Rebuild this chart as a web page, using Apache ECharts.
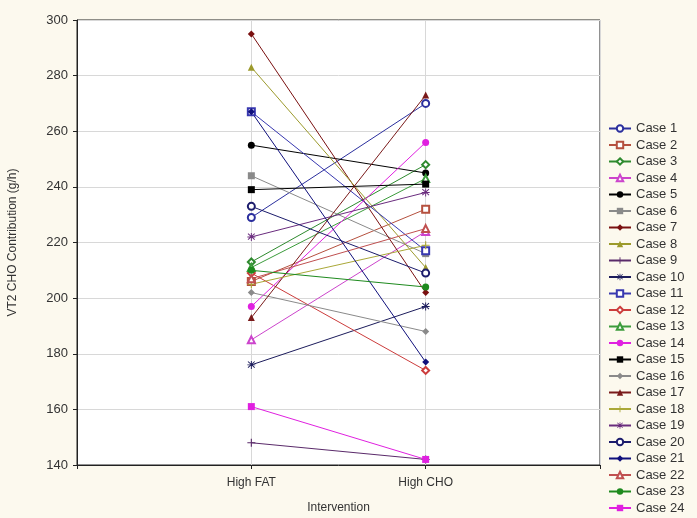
<!DOCTYPE html>
<html>
<head>
<meta charset="utf-8">
<script src="https://cdn.jsdelivr.net/npm/echarts@6/dist/echarts.min.js"></script>
<style>
  html, body { margin: 0; padding: 0; background: #fcf9ee; }
  #chart { width: 697px; height: 518px; }
</style>
</head>
<body>
<div id="chart"></div>
<script>
// Intervention conditions (x positions 1 and 2 on a 0..3 axis)
const interventions = ['High FAT', 'High CHO'];
const caseNames = ['Case 1','Case 2','Case 3','Case 4','Case 5','Case 6','Case 7','Case 8',
  'Case 9','Case 10','Case 11','Case 12','Case 13','Case 14','Case 15','Case 16',
  'Case 17','Case 18','Case 19','Case 20','Case 21','Case 22','Case 23','Case 24'];
// VT2 CHO contribution (g/h) per case
const highFat = [229, 206, 213, 185, 255, 244, 295, 283, 148, 176, 267, 209,
                 211, 197, 239, 202, 193, 205, 222, 233, 267, 207, 210, 161];
const highCho = [270, 232, 248, 224, 245, 216, 202, 211, 142, 197, 217, 174,
                 243, 256, 241, 188, 273, 219, 238, 209, 177, 225, 204, 142];
const yTicks = [140, 160, 180, 200, 220, 240, 260, 280, 300];

// Marker shapes and colours for each case
const PLUS = 'path://M4.3,0h1.4v10h-1.4zM0,4.3h10v1.4h-10z';
const STAR = 'path://M4.4,0h1.2v10h-1.2zM0,4.4h10v1.2h-10zM1.2,0.4L9.6,8 8.8,8.8 0.4,1.2zM8.8,0.4L9.6,1.2 1.2,8.8 0.4,8z';
const styles = [
  ['emptyCircle',   '#2b2f9e'], ['emptyRect',    '#b5503e'], ['emptyDiamond', '#2e8a2e'],
  ['emptyTriangle', '#cc44cc'], ['circle',       '#000000'], ['rect',         '#8a8a8a'],
  ['diamond',       '#7a1010'], ['triangle',     '#9c9a2c'], [PLUS,           '#5a2a6a'],
  [STAR,            '#1c1c5c'], ['emptyRect',    '#3838b0'], ['emptyDiamond', '#cc3c3c'],
  ['emptyTriangle', '#3c9c3c'], ['circle',       '#e020e0'], ['rect',         '#000000'],
  ['diamond',       '#8a8a8a'], ['triangle',     '#7a1a1a'], [PLUS,           '#aaa838'],
  [STAR,            '#6a2c7e'], ['emptyCircle',  '#1c1c6c'], ['diamond',      '#10107c'],
  ['emptyTriangle', '#c05050'], ['circle',       '#1e8a1e'], ['rect',         '#e020e0']
];

const series = caseNames.map((name, i) => ({
  name: name,
  type: 'line',
  data: [[1, highFat[i]], [2, highCho[i]]],
  symbol: styles[i][0],
  symbolSize: (styles[i][0] === PLUS || styles[i][0] === STAR) ? 8 : 7,
  lineStyle: { width: 1, color: styles[i][1] },
  itemStyle: { color: styles[i][1], borderWidth: 1.2 },
  emphasis: { disabled: true },
  z: 2
}));

const chart = echarts.init(document.getElementById('chart'), null, { renderer: 'canvas' });
chart.setOption({
  backgroundColor: '#fcf9ee',
  animation: false,
  textStyle: { fontFamily: 'Liberation Sans, Arial, sans-serif' },
  grid: {
    left: 77, right: 97, top: 20, bottom: 53,
    containLabel: false,
    outerBoundsMode: 'none',
    show: true, backgroundColor: '#ffffff', borderColor: '#222', borderWidth: 1
  },
  legend: {
    orient: 'vertical',
    left: 606, top: 120,
    padding: 2,
    itemWidth: 22, itemHeight: 8, itemGap: 3.5,
    textStyle: { fontSize: 13, color: '#333', fontFamily: 'Liberation Sans, Arial, sans-serif' },
    data: caseNames
  },
  xAxis: {
    type: 'value',
    min: 0, max: 3, interval: 1,
    name: 'Intervention',
    nameLocation: 'middle',
    nameGap: 37,
    nameTextStyle: { fontSize: 12, color: '#333' },
    axisLine: { show: true, lineStyle: { color: '#222' } },
    axisTick: { show: true, length: 4, lineStyle: { color: '#222' } },
    axisLabel: {
      fontSize: 12, color: '#333', margin: 12,
      formatter: v => (v >= 1 && v <= 2) ? interventions[v - 1] : ''
    },
    splitLine: { show: true, lineStyle: { color: '#d8d8d8' } }
  },
  yAxis: {
    type: 'value',
    min: yTicks[0], max: yTicks[yTicks.length - 1], interval: 20,
    name: 'VT2 CHO Contribution (g/h)',
    nameLocation: 'middle',
    nameGap: 58,
    nameTextStyle: { fontSize: 12, color: '#333' },
    axisLine: { show: true, lineStyle: { color: '#222' } },
    axisTick: { show: true, length: 4, lineStyle: { color: '#222' } },
    axisLabel: { fontSize: 13, color: '#333', margin: 9 },
    splitLine: { show: true, lineStyle: { color: '#d8d8d8' } }
  },
  series: series
});
</script>
</body>
</html>
